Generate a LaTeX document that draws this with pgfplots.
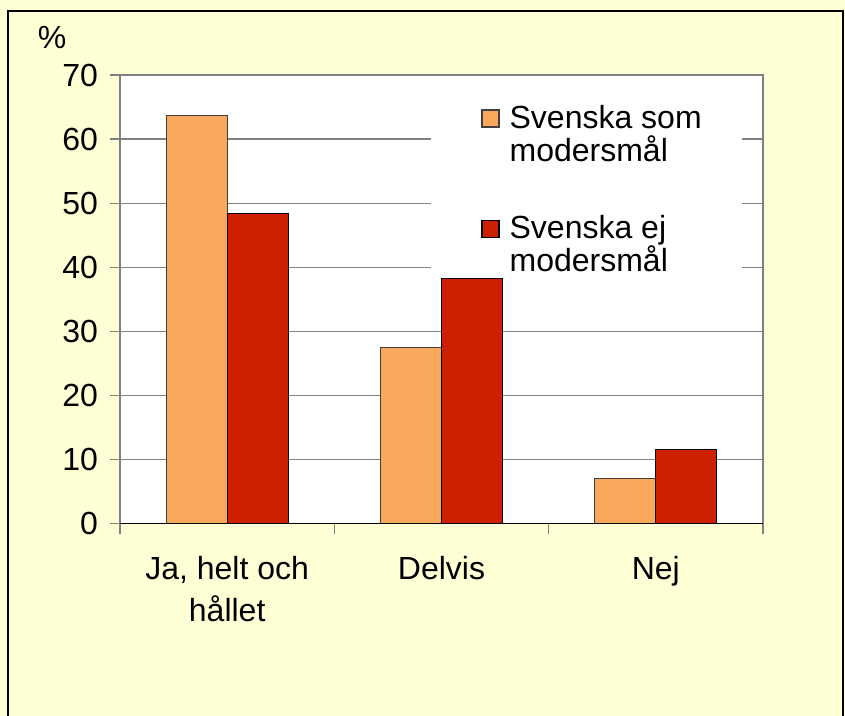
\documentclass[border=0pt]{standalone}
\usepackage{pgfplots}
\pgfplotsset{compat=1.18}
\usepackage{fontspec}
\setmainfont{Liberation Sans}
\definecolor{bg}{HTML}{FFFFD6}
\definecolor{orng}{HTML}{F9A85B}
\definecolor{dred}{HTML}{CC2000}
\definecolor{gridc}{HTML}{808080}
\begin{document}
\begin{tikzpicture}
\useasboundingbox (0,0) rectangle (422.5pt,-358pt);
\fill[bg] (0,0) rectangle (422.5pt,-358pt);
\draw[black, line width=0.6pt] (4pt,-5.5pt) rectangle (421.5pt,-370pt);
\begin{axis}[
  at={(60pt,-261.75pt)}, anchor=south west,
  scale only axis, width=321.5pt, height=224.25pt,
  xmin=-0.5, xmax=2.5, ymin=0, ymax=70,
  ytick={0,10,...,70},
  xtick={-0.5,0.5,1.5,2.5}, xticklabels={},
  xtick pos=lower, ytick pos=left,
  extra x ticks={0,1,2},
  extra x tick labels={{Ja, helt och\\hållet},{Delvis},{Nej}},
  extra x tick style={major tick length=0pt, grid=none,
    xticklabel style={align=center, font=\fontsize{16}{21}\selectfont, yshift=-13pt}},
  tick align=outside, major tick length=5pt,
  tick style={draw=gridc, line width=0.6pt},
  ymajorgrids, grid style={draw=gridc, line width=0.6pt},
  axis line style={draw=gridc, line width=0.6pt},
  axis background/.style={fill=white},
  ticklabel style={font=\fontsize{16}{18}\selectfont},
  yticklabel style={xshift=-2.5pt},
  /pgf/number format/assume math mode=true,
  ybar=0pt, bar width=30.5pt,
  legend style={draw=none, fill=none, at={(axis description cs:0.4837,0.951)}, anchor=north west,
    font=\fontsize{16}{16.5}\selectfont, cells={align=left, anchor=west}, row sep=21.5pt,
    inner xsep=25pt, inner ysep=2pt},
  legend image code/.code={\draw[#1] (0pt,4pt) rectangle (8.5pt,12.5pt); \path (11.5pt,0pt);},
]
\addplot[fill=orng, draw=black!75, line width=0.6pt] coordinates {(0,63.7) (1,27.5) (2,7.0)};
\addlegendentry{Svenska som\\modersmål}
\addplot[fill=dred, draw=black, line width=0.6pt] coordinates {(0,48.4) (1,38.3) (2,11.5)};
\addlegendentry{Svenska ej\\modersmål}
\fill[white] (axis cs:0.951,39.1) rectangle (axis cs:2.402,69.8);
\draw[black, line width=0.6pt] (axis cs:-0.5,0) -- (axis cs:2.5,0);
\end{axis}
\node[font=\fontsize{16}{18}\selectfont] at (26pt,-18.5pt) {\%};
\end{tikzpicture}
\end{document}
